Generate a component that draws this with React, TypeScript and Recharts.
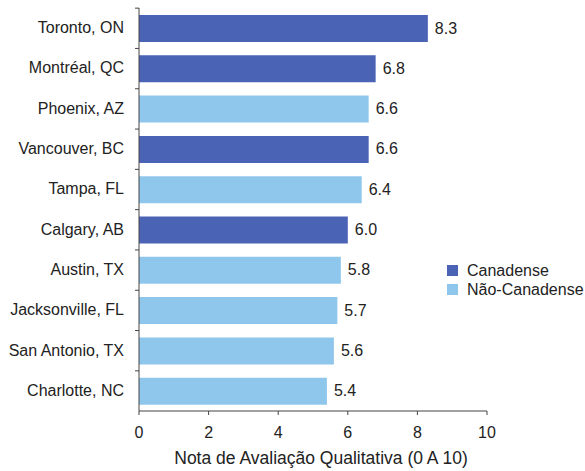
import React from "react";
import { BarChart, Bar, XAxis, YAxis, LabelList } from "recharts";

const cities = [
  "Toronto, ON", "Montréal, QC", "Phoenix, AZ", "Vancouver, BC", "Tampa, FL",
  "Calgary, AB", "Austin, TX", "Jacksonville, FL", "San Antonio, TX", "Charlotte, NC",
];
const scores = [8.3, 6.8, 6.6, 6.6, 6.4, 6.0, 5.8, 5.7, 5.6, 5.4];
const isCanadian = [true, true, false, true, false, true, false, false, false, false];
const xTicks = [0, 2, 4, 6, 8, 10];

const data = cities.map((city, i) => ({
  city,
  canadense: isCanadian[i] ? scores[i] : null,
  naoCanadense: isCanadian[i] ? null : scores[i],
}));

const DARK = "#4a63b4";
const LIGHT = "#8fc7ec";
const TEXT = "#222";
const FONT = "'Liberation Sans', Arial, sans-serif";

const legendItems = [
  { name: "Canadense", color: DARK },
  { name: "Não-Canadense", color: LIGHT },
];

function CityTick(props: any) {
  const { x, y, payload } = props;
  return (
    <g>
      <line x1={x - 4} x2={x} y1={y - 20} y2={y - 20} stroke="#444" />
      <text x={x - 15} y={y} dy={5} textAnchor="end" fill={TEXT} fontSize={16} fontFamily={FONT}>
        {payload.value}
      </text>
    </g>
  );
}

function ValueLabel(props: any) {
  const { x, y, width, height, value } = props;
  if (value == null) return null;
  return (
    <text x={x + width + 7} y={y + height / 2} dy={5} fill={TEXT} fontSize={16} fontFamily={FONT}>
      {Number(value).toFixed(1)}
    </text>
  );
}

export default function App() {
  return (
    <div style={{ position: "absolute", left: 0, top: 0, width: 585, height: 471, background: "#fff" }}>
      <BarChart
        width={585}
        height={471}
        data={data}
        layout="vertical"
        margin={{ top: 8, right: 98, left: 0, bottom: 0 }}
      >
        <XAxis
          type="number"
          domain={[0, 10]}
          ticks={xTicks}
          height={60}
          stroke="#444"
          tickSize={4}
          tickMargin={12}
          tick={{ fill: TEXT, fontSize: 16, fontFamily: FONT }}
          label={{
            value: "Nota de Avaliação Qualitativa (0 A 10)",
            position: "insideBottom",
            offset: 7,
            dx: 8,
            fill: TEXT,
            fontSize: 17.5,
            fontFamily: FONT,
          }}
        />
        <YAxis
          type="category"
          dataKey="city"
          width={139}
          stroke="#444"
          tickLine={false}
          tickSize={0}
          tickMargin={0}
          tick={<CityTick />}
        />
        <Bar dataKey="canadense" name="Canadense" stackId="a" fill={DARK} barSize={27} isAnimationActive={false}>
          <LabelList dataKey="canadense" content={<ValueLabel />} />
        </Bar>
        <Bar dataKey="naoCanadense" name="Não-Canadense" stackId="a" fill={LIGHT} barSize={27} isAnimationActive={false}>
          <LabelList dataKey="naoCanadense" content={<ValueLabel />} />
        </Bar>
      </BarChart>
      <div style={{ position: "absolute", left: 447, top: 261, fontFamily: FONT, fontSize: 16, color: TEXT }}>
        {legendItems.map((it) => (
          <div key={it.name} style={{ display: "flex", alignItems: "center", height: 19 }}>
            <span style={{ width: 11, height: 11, background: it.color, marginRight: 9, display: "inline-block" }} />
            {it.name}
          </div>
        ))}
      </div>
    </div>
  );
}
